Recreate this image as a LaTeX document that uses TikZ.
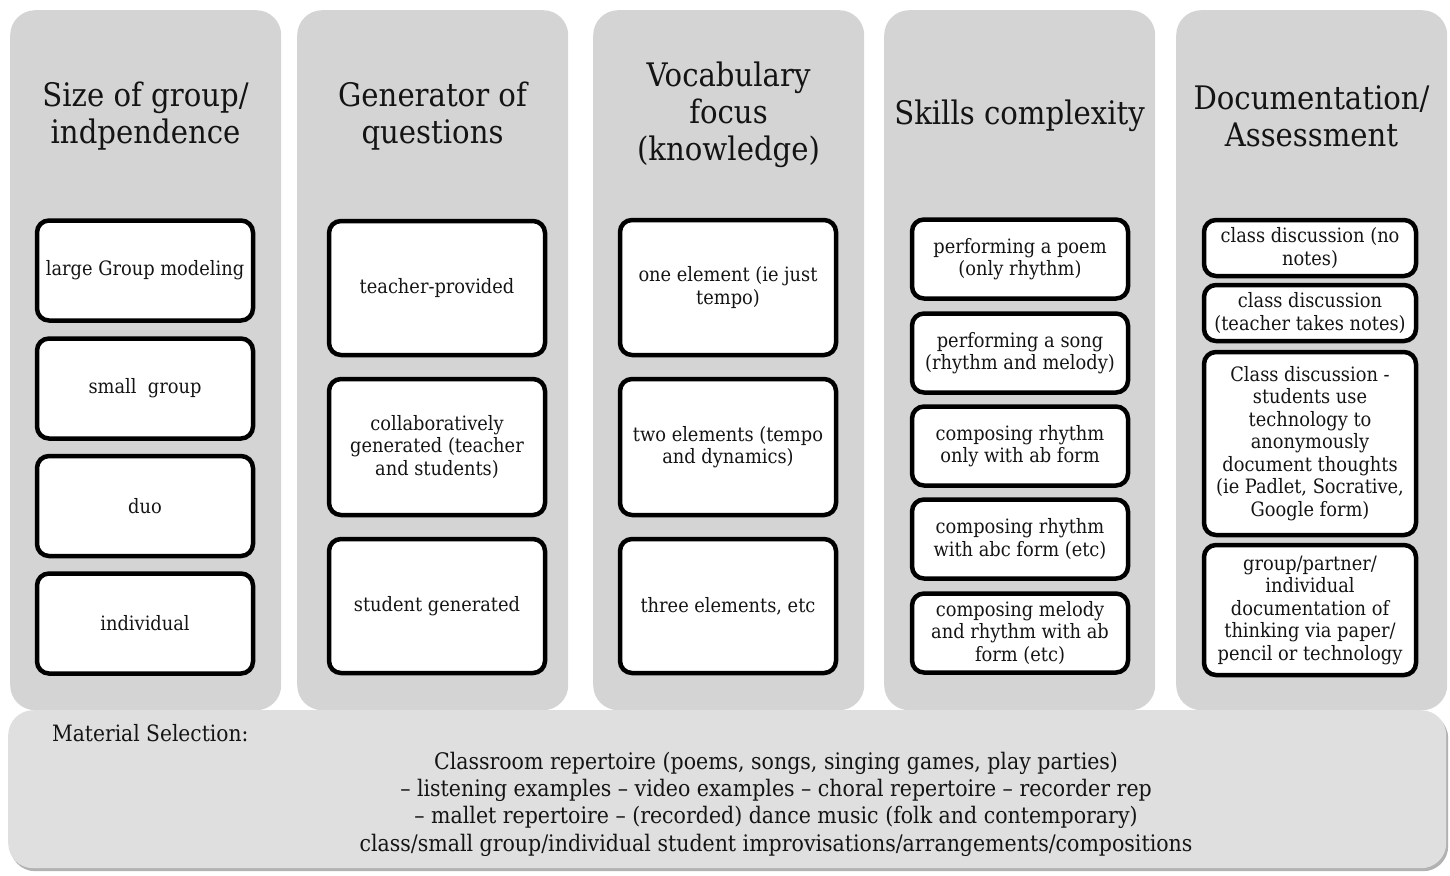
\documentclass[tikz,border=0pt]{standalone}
\usepackage{fontspec}
\setmainfont{DejaVu Serif Condensed}
\usetikzlibrary{positioning,shadows}
\definecolor{colgray}{HTML}{D4D4D4}
\definecolor{bandgray}{HTML}{DFDFDF}
\definecolor{ink}{HTML}{141414}

\begin{document}
\begin{tikzpicture}[x=1pt, y=1pt,
        col/.style={fill=colgray, rounded corners=25pt, minimum width=271pt, minimum height=700pt, anchor=north west, inner sep=0pt},
        ttl/.style={align=center, text=ink, inner sep=0pt, font=\fontsize{32.4}{37}\selectfont},
        b/.style={draw, fill=white, rounded corners=12pt, line width=4.5pt, align=center, text=ink, inner sep=0pt, minimum width=216pt, font=\fontsize{19.8}{22.5}\selectfont},
        band/.style={fill=bandgray, rounded corners=25pt, minimum width=1438pt, minimum height=158pt, anchor=north west, inner sep=0pt,
          drop shadow={shadow xshift=2pt, shadow yshift=-3pt, fill=black, opacity=0.3}}]
      \useasboundingbox (0,0) rectangle (1450,-875);
      % column backgrounds
      \node[col] (c1) at (10,-10) {};
      \node[col] (c2) at (297,-10) {};
      \node[col] (c3) at (593,-10) {};
      \node[col] (c4) at (884,-10) {};
      \node[col] (c5) at (1176,-10) {};
      % headings
      \node[ttl] (t1) at (145.5,-116) {Size of group/\\indpendence};
      \node[ttl] (t2) at (432.5,-116) {Generator of\\questions};
      \node[ttl] (t3) at (728.5,-115) {Vocabulary\\focus\\(knowledge)};
      \node[ttl] (t4) at (1019.5,-116) {Skills complexity};
      \node[ttl] (t5) at (1311.5,-116) {Documentation/\\Assessment};
      % size of group
      \node[b, minimum height=100pt] (g1) at (145,-270.5) {large Group modeling};
      \node[b, minimum height=100pt] (g2) at (145,-388.5) {small\ \ group};
      \node[b, minimum height=100pt] (g3) at (145,-506) {duo};
      \node[b, minimum height=100pt] (g4) at (145,-623.5) {individual};
      % generator of questions
      \node[b, minimum height=134pt] (q1) at (437,-288) {teacher-provided};
      \node[b, minimum height=136pt] (q2) at (437,-447) {collaboratively\\generated (teacher\\and students)};
      \node[b, minimum height=134pt] (q3) at (437,-606) {student generated};
      % vocabulary
      \node[b, minimum height=135pt] (v1) at (728,-287.5) {one element (ie just\\tempo)};
      \node[b, minimum height=136pt] (v2) at (728,-447) {two elements (tempo\\and dynamics)};
      \node[b, minimum height=134pt] (v3) at (728,-606) {three elements, etc};
      % skills
      \node[b, minimum height=79pt] (s1) at (1020,-259) {performing a poem\\(only rhythm)};
      \node[b, minimum height=79pt] (s2) at (1020,-353) {performing a song\\(rhythm and melody)};
      \node[b, minimum height=79pt] (s3) at (1020,-446) {composing rhythm\\only with ab form};
      \node[b, minimum height=79pt] (s4) at (1020,-539) {composing rhythm\\with abc form (etc)};
      \node[b, minimum height=79pt] (s5) at (1020,-633) {composing melody\\and rhythm with ab\\form (etc)};
      % documentation
      \node[b, minimum width=212pt, minimum height=56pt] (d1) at (1310,-248) {class discussion (no\\notes)};
      \node[b, minimum width=212pt, minimum height=56pt] (d2) at (1310,-313) {class discussion\\(teacher takes notes)};
      \node[b, minimum width=212pt, minimum height=183pt] (d3) at (1310,-443.5) {Class discussion -\\students use\\technology to\\anonymously\\document thoughts\\(ie Padlet, Socrative,\\Google form)};
      \node[b, minimum width=212pt, minimum height=130pt] (d4) at (1310,-610) {group/partner/\\individual\\documentation of\\thinking via paper/\\pencil or technology};
      % material selection
      \node[band] (m) at (8,-710) {};
      \node[anchor=west, text=ink, inner sep=0pt, font=\fontsize{22.5}{26}\selectfont] (ml) at (52,-733) {Material Selection:};
      \node[align=center, text=ink, inner sep=0pt, font=\fontsize{22.8}{27.3}\selectfont] (mt) at (776,-804)
        {Classroom repertoire (poems, songs, singing games, play parties)\\
         -- listening examples -- video examples -- choral repertoire -- recorder rep\\
         -- mallet repertoire -- (recorded) dance music (folk and contemporary)\\
         class/small group/individual student improvisations/arrangements/compositions};
      \end{tikzpicture}
\end{document}
